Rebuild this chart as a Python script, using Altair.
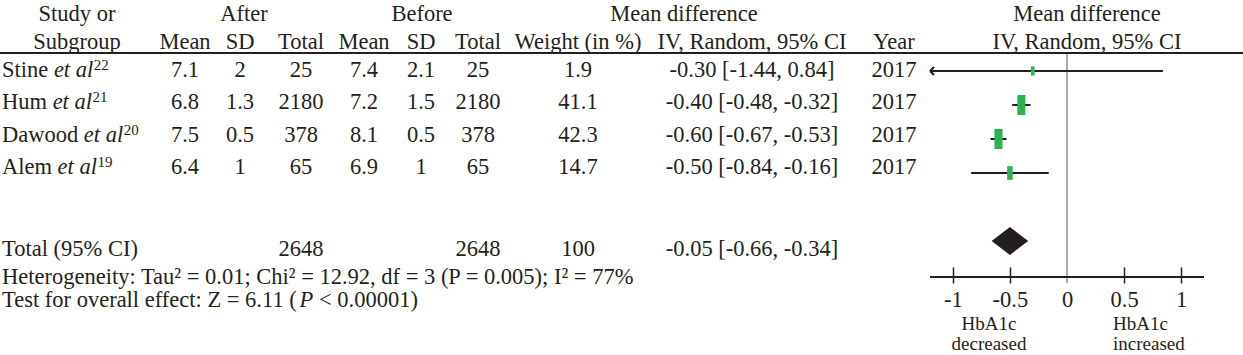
import altair as alt
import pandas as pd

# ------------------------------------------------------------------ data
studies = ["Stine", "Hum", "Dawood", "Alem"]
ref_nums = ["22", "21", "20", "19"]
after_mean = [7.1, 6.8, 7.5, 6.4]
after_sd = [2, 1.3, 0.5, 1]
after_total = [25, 2180, 378, 65]
before_mean = [7.4, 7.2, 8.1, 6.9]
before_sd = [2.1, 1.5, 0.5, 1]
before_total = [25, 2180, 378, 65]
weights = [1.9, 41.1, 42.3, 14.7]
mean_diff = [-0.30, -0.40, -0.60, -0.50]
ci_low = [-1.44, -0.48, -0.67, -0.84]
ci_high = [0.84, -0.32, -0.53, -0.16]
years = [2017, 2017, 2017, 2017]

total_label = "Total (95% CI)"
total_after = 2648
total_before = 2648
total_weight = 100
total_md_text = "-0.05 [-0.66, -0.34]"   # as printed in the figure
total_est = -0.50
total_low = -0.66
total_high = -0.34

heterogeneity = "Heterogeneity: Tau² = 0.01; Chi² = 12.92, df = 3 (P = 0.005); I² = 77%"
overall_parts = ["Test for overall effect: Z = 6.11 (", "P", " < 0.00001)"]

header_top = ["Study or", "After", "Before", "Mean difference", "Mean difference"]
header_sub = ["Subgroup", "Mean", "SD", "Total", "Mean", "SD", "Total",
              "Weight (in %)", "IV, Random, 95% CI", "Year", "IV, Random, 95% CI"]
axis_ticks = [-1, -0.5, 0, 0.5, 1]
note_left = ["HbA1c", "decreased"]
note_right = ["HbA1c", "increased"]

# ------------------------------------------------------------------ layout / style
FONT = "Liberation Serif"
INK = "#231f20"
GREEN = "#2db350"
GREY = "#8c8c8c"
FS = 22.5
SUP = 15
SMALL = 19

X_MIN, X_MAX = -1.2, 1.2
FX = alt.Scale(domain=[X_MIN, X_MAX], range=[930, 1204], nice=False, zero=False)
FY = alt.Scale(domain=[0, 5], range=[71, 241], nice=False, zero=False)

HDR_TOP_X = [77, 244, 422, 684, 1087]
HDR_SUB_X = [77, 185, 240, 301, 364, 421, 478, 578, 752, 894, 1087]
COL = {"a_mean": 185, "a_sd": 240, "a_tot": 301, "b_mean": 364, "b_sd": 421,
       "b_tot": 478, "weight": 578, "ci": 752, "year": 894}
LEFT_X = 2
Y_H1, Y_H2, Y_RULE = 14, 42, 53
ROW_Y = [70, 102.3, 134.7, 167]
Y_TOTAL, Y_HET, Y_TEST = 249, 277, 300
Y_AXIS = 277
Y_NOTE = [324, 344]
NOTE_LEFT_X, NOTE_RIGHT_X = 989, 1113

# Times / Liberation Serif advance widths (1/1000 em)
REG = {" ": 250, "%": 833, "(": 333, ")": 333, ",": 250, "-": 333, ".": 250,
       ":": 278, ";": 278, "<": 564, "=": 564, "[": 333, "]": 333, "²": 300,
       "A": 722, "C": 667, "D": 722, "H": 722, "I": 333, "P": 556, "S": 556,
       "T": 611, "Z": 611, "a": 444, "b": 500, "c": 444, "d": 500, "e": 444,
       "f": 333, "g": 500, "h": 500, "i": 278, "l": 278, "m": 778, "n": 500,
       "o": 500, "p": 500, "r": 333, "s": 389, "t": 278, "u": 500, "v": 500,
       "w": 722, "y": 500}
ITA = {" ": 250, "e": 444, "t": 278, "a": 500, "l": 278, "P": 611}


def tw(s, table=REG, size=FS):
    return sum(table.get(c, 500) for c in s) * size / 1000.0


def fmt(v):
    return f"{v:g}"


# ------------------------------------------------------------------ text tables
center_rows, left_rows, italic_rows, sup_rows = [], [], [], []

for t, x in zip(header_top, HDR_TOP_X):
    center_rows.append({"text": t, "x": x, "y": Y_H1})
for t, x in zip(header_sub, HDR_SUB_X):
    center_rows.append({"text": t, "x": x, "y": Y_H2})

for i, name in enumerate(studies):
    y = ROW_Y[i]
    vals = {"a_mean": fmt(after_mean[i]), "a_sd": fmt(after_sd[i]), "a_tot": fmt(after_total[i]),
            "b_mean": fmt(before_mean[i]), "b_sd": fmt(before_sd[i]), "b_tot": fmt(before_total[i]),
            "weight": fmt(weights[i]),
            "ci": f"{mean_diff[i]:.2f} [{ci_low[i]:.2f}, {ci_high[i]:.2f}]",
            "year": str(years[i])}
    for k, v in vals.items():
        center_rows.append({"text": v, "x": COL[k], "y": y})
    left_rows.append({"text": name, "x": LEFT_X, "y": y})
    x_it = LEFT_X + tw(name + " ")
    italic_rows.append({"text": "et al", "x": x_it, "y": y})
    sup_rows.append({"text": ref_nums[i], "x": x_it + tw("et al", ITA) + 0.5, "y": y - 5})

left_rows.append({"text": total_label, "x": LEFT_X, "y": Y_TOTAL})
for k, v in [("a_tot", fmt(total_after)), ("b_tot", fmt(total_before)),
             ("weight", fmt(total_weight)), ("ci", total_md_text)]:
    center_rows.append({"text": v, "x": COL[k], "y": Y_TOTAL})

left_rows.append({"text": heterogeneity, "x": LEFT_X, "y": Y_HET})
# rich text: regular / italic "P" / regular, placed one after another
seg1, seg2, seg3 = overall_parts
x_p = LEFT_X + tw(seg1)
x_rest = x_p + tw(seg2, ITA) + tw(seg3[: len(seg3) - len(seg3.lstrip(" "))])
left_rows.append({"text": seg1.strip(), "x": LEFT_X, "y": Y_TEST})
italic_rows.append({"text": seg2, "x": x_p, "y": Y_TEST})
left_rows.append({"text": seg3.strip(), "x": x_rest, "y": Y_TEST})

note_c = [{"text": t, "x": NOTE_LEFT_X, "y": y} for t, y in zip(note_left, Y_NOTE)]
note_l = [{"text": t, "x": NOTE_RIGHT_X, "y": y} for t, y in zip(note_right, Y_NOTE)]


def text_layer(rows, align="center", style="normal", size=FS):
    return alt.Chart(pd.DataFrame(rows)).mark_text(
        align=align, baseline="middle", font=FONT, fontSize=size,
        fontStyle=style, color=INK
    ).encode(
        x=alt.X("x:Q", scale=None, axis=None),
        y=alt.Y("y:Q", scale=None, axis=None),
        text="text:N",
    )


# ------------------------------------------------------------------ forest plot
forest = pd.DataFrame({"study": studies, "row": list(range(len(studies))),
                       "md": mean_diff, "lo": ci_low, "hi": ci_high, "w": weights})
forest["lo_shown"] = forest["lo"].clip(lower=X_MIN)
forest["hi_shown"] = forest["hi"].clip(upper=X_MAX)
clipped = forest[forest["lo"] < X_MIN]

total_row = len(studies) + 1
half = 0.41
diamond = pd.DataFrame({"x": [total_low, total_est, total_high],
                        "y": [total_row, total_row - half, total_row],
                        "y2": [total_row, total_row + half, total_row]})

AX = alt.Axis(values=axis_ticks, offset=-10, tickSize=16, tickWidth=1.5,
              tickColor={"condition": {"test": "datum.value === 0", "value": "transparent"},
                         "value": INK},
              domain=False, grid=False, labelFont=FONT, labelFontSize=FS,
              labelColor=INK, labelPadding=5, labelExpr="toString(datum.value)",
              title=None)

zero_line = alt.Chart(pd.DataFrame({"v": [0]})).mark_rule(
    color=GREY, strokeWidth=1.5
).encode(x=alt.X("v:Q", scale=FX, axis=None), y=alt.value(Y_RULE + 1), y2=alt.value(Y_AXIS + 6))

axis_line = alt.Chart(pd.DataFrame({"a": [X_MIN], "b": [X_MAX]})).mark_rule(
    color=INK, strokeWidth=2
).encode(x=alt.X("a:Q", scale=FX, axis=AX), x2="b:Q", y=alt.value(Y_AXIS))

ci_lines = alt.Chart(forest).mark_rule(color=INK, strokeWidth=2).encode(
    x=alt.X("lo_shown:Q", scale=FX, axis=None), x2="hi_shown:Q",
    y=alt.Y("row:Q", scale=FY, axis=None))

arrows = alt.Chart(clipped).mark_point(
    shape="M0,0L1,-1M0,0L1,1", size=64, filled=False, color=INK,
    strokeWidth=2, opacity=1
).encode(x=alt.X("lo_shown:Q", scale=FX, axis=None),
         y=alt.Y("row:Q", scale=FY, axis=None))

boxes = alt.Chart(forest).mark_point(
    shape="M-0.4,-1L0.4,-1L0.4,1L-0.4,1Z", filled=True, color=GREEN,
    opacity=1, strokeWidth=0
).encode(x=alt.X("md:Q", scale=FX, axis=None),
         y=alt.Y("row:Q", scale=FY, axis=None),
         size=alt.Size("w:Q", scale=alt.Scale(domain=[0, 45], range=[70, 430]), legend=None))

diamond_layer = alt.Chart(diamond).mark_area(color=INK, opacity=1, orient="vertical").encode(
    x=alt.X("x:Q", scale=FX, axis=None),
    y=alt.Y("y:Q", scale=FY, axis=None), y2="y2:Q")

header_rule = alt.Chart(pd.DataFrame({"k": [0]})).mark_rule(color=INK, strokeWidth=2).encode(
    x=alt.value(0), x2=alt.value(1243), y=alt.value(Y_RULE))

chart = alt.layer(
    zero_line, axis_line, header_rule, ci_lines, arrows, boxes, diamond_layer,
    text_layer(center_rows, "center"),
    text_layer(left_rows, "left"),
    text_layer(italic_rows, "left", style="italic"),
    text_layer(sup_rows, "left", size=SUP),
    text_layer(note_c, "center", size=SMALL),
    text_layer(note_l, "left", size=SMALL),
).resolve_scale(
    x="independent", y="independent", size="independent"
).properties(
    width=1243, height=277,
    padding={"left": 0, "right": 0, "top": 0, "bottom": 78},
    autosize=alt.AutoSizeParams(type="none"),
    background="white",
).configure_view(stroke=None)

chart.save("out.html", embed_options={"renderer": "svg", "actions": False})
